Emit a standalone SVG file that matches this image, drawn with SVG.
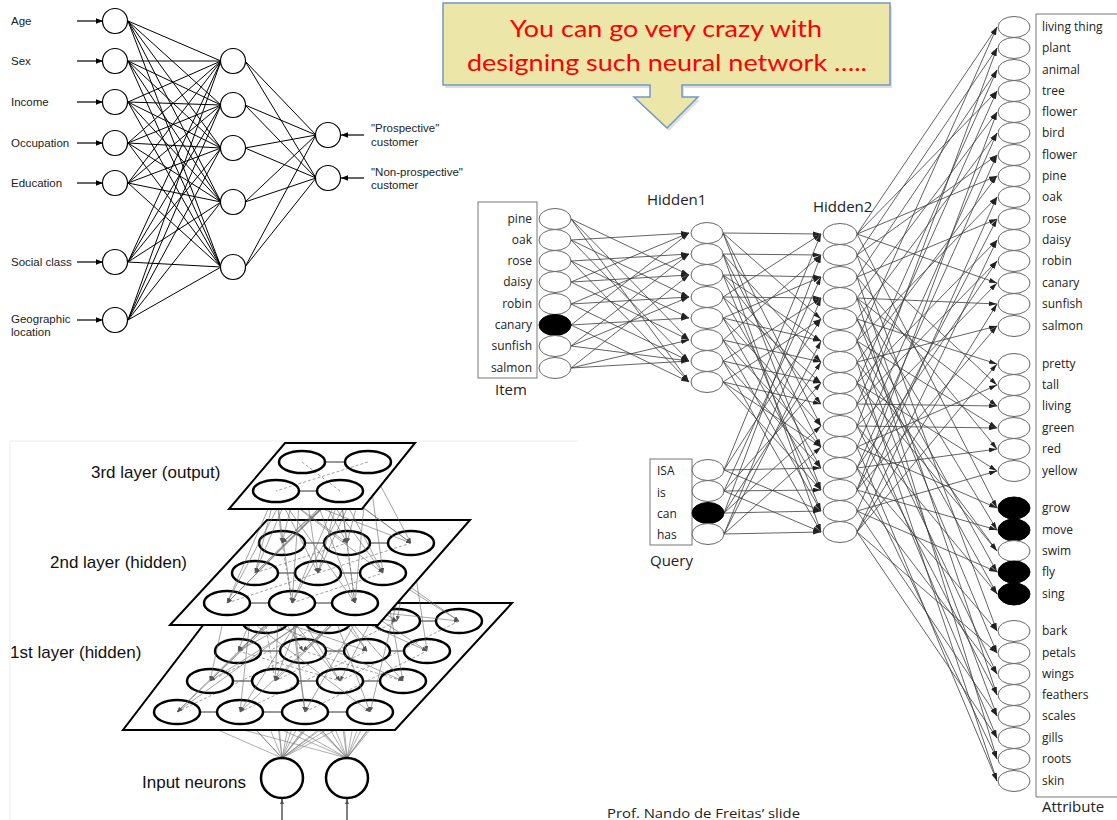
<svg xmlns="http://www.w3.org/2000/svg" width="1117" height="820" viewBox="0 0 1117 820">
  <defs>
    <marker id="arr" viewBox="0 0 10 6" refX="10" refY="3" markerWidth="8" markerHeight="5" markerUnits="userSpaceOnUse" orient="auto">
      <path d="M0,0L10,3L0,6z" fill="#222"/>
    </marker>
    <marker id="arrTL" viewBox="0 0 10 8" refX="10" refY="4" markerWidth="7" markerHeight="6" markerUnits="userSpaceOnUse" orient="auto">
      <path d="M0,0L10,4L0,8z" fill="#000"/>
    </marker>
    <marker id="arrSm" viewBox="0 0 10 8" refX="10" refY="4" markerWidth="5" markerHeight="4" markerUnits="userSpaceOnUse" orient="auto">
      <path d="M0,0L10,4L0,8z" fill="#555"/>
    </marker>
    <style>
      .tl-edge{fill:none;stroke:#000;stroke-width:1}
      .tl-node{fill:#fff;stroke:#000;stroke-width:1.2}
      .tl-arrow{stroke:#000;stroke-width:1.2;marker-end:url(#arrTL)}
      .tl-label{font-family:"Liberation Sans",Arial,sans-serif;font-size:11.5px;fill:#222}
      .rn-edge{stroke:#3a3a3a;stroke-width:0.8;marker-end:url(#arr)}
      .rn-node{fill:#fff;stroke:#666;stroke-width:1}
      .rn-node.on{fill:#000;stroke:#000}
      .rn-label{font-family:"Open Sans","Noto Sans",sans-serif;font-size:12px;fill:#222}
      .rn-title{font-family:"Open Sans","Noto Sans",sans-serif;font-size:15px;fill:#222}
      .rn-box{fill:none;stroke:#777;stroke-width:1}
      .plane{fill:#fff;stroke:#000;stroke-width:2}
      .neuron{fill:none;stroke:#000;stroke-width:2.5}
      .mesh{stroke:#333;stroke-width:1}
      .mesh-d{stroke:#777;stroke-width:0.7;stroke-dasharray:3 2}
      .syn{stroke:#666;stroke-width:0.6;marker-end:url(#arrSm)}
      .syn-in{stroke:#777;stroke-width:0.6}
      .layer-label{font-family:"Liberation Sans",Arial,sans-serif;font-size:17px;fill:#111}
      .callout-text{font-family:Lato,"Open Sans",sans-serif;font-size:24px;fill:#ff0000}
    </style>
  </defs>

  <rect width="1117" height="820" fill="#fff"/>

  <!-- ===== Customer classification network (top left) ===== -->
  <g id="customer-net">
    <g id="customer-edges">
      <path class="tl-edge" d="M128 21L221 61M128 21L221 105M128 21L221 148M128 21L221 202M128 21L221 267
        M128 61L221 61M128 61L221 105M128 61L221 148M128 61L221 202M128 61L221 267
        M128 102L221 61M128 102L221 105M128 102L221 148M128 102L221 202M128 102L221 267
        M128 143L221 61M128 143L221 105M128 143L221 148M128 143L221 202M128 143L221 267
        M128 183L221 61M128 183L221 105M128 183L221 148M128 183L221 202M128 183L221 267
        M128 262L221 61M128 262L221 105M128 262L221 148M128 262L221 202M128 262L221 267
        M128 320L221 61M128 320L221 105M128 320L221 148M128 320L221 202M128 320L221 267
        M245 61L316 135M245 61L316 178M245 105L316 135M245 105L316 178M245 148L316 135M245 148L316 178
        M245 202L316 135M245 202L316 178M245 267L316 135M245 267L316 178"/>
      <line class="tl-arrow" x1="77" y1="21" x2="103" y2="21"/>
      <line class="tl-arrow" x1="77" y1="61" x2="103" y2="61"/>
      <line class="tl-arrow" x1="77" y1="102" x2="103" y2="102"/>
      <line class="tl-arrow" x1="77" y1="143" x2="103" y2="143"/>
      <line class="tl-arrow" x1="77" y1="183" x2="103" y2="183"/>
      <line class="tl-arrow" x1="77" y1="262" x2="103" y2="262"/>
      <line class="tl-arrow" x1="77" y1="320" x2="103" y2="320"/>
      <line class="tl-arrow" x1="364" y1="135" x2="341" y2="135"/>
      <line class="tl-arrow" x1="364" y1="178" x2="341" y2="178"/>
    </g>
    <g id="in-age"><circle class="tl-node" cx="115" cy="21" r="12.5"/><text class="tl-label" x="11" y="25">Age</text></g>
    <g id="in-sex"><circle class="tl-node" cx="115" cy="61" r="12.5"/><text class="tl-label" x="11" y="65">Sex</text></g>
    <g id="in-income"><circle class="tl-node" cx="115" cy="102" r="12.5"/><text class="tl-label" x="11" y="106">Income</text></g>
    <g id="in-occupation"><circle class="tl-node" cx="115" cy="143" r="12.5"/><text class="tl-label" x="11" y="147">Occupation</text></g>
    <g id="in-education"><circle class="tl-node" cx="115" cy="183" r="12.5"/><text class="tl-label" x="11" y="187">Education</text></g>
    <g id="in-social"><circle class="tl-node" cx="115" cy="262" r="12.5"/><text class="tl-label" x="11" y="266">Social class</text></g>
    <g id="in-geo"><circle class="tl-node" cx="115" cy="320" r="12.5"/><text class="tl-label" x="11" y="323">Geographic</text><text class="tl-label" x="11" y="336">location</text></g>
    <g id="hid-1"><circle class="tl-node" cx="233" cy="61" r="12.5"/></g>
    <g id="hid-2"><circle class="tl-node" cx="233" cy="105" r="12.5"/></g>
    <g id="hid-3"><circle class="tl-node" cx="233" cy="148" r="12.5"/></g>
    <g id="hid-4"><circle class="tl-node" cx="233" cy="202" r="12.5"/></g>
    <g id="hid-5"><circle class="tl-node" cx="233" cy="267" r="12.5"/></g>
    <g id="out-prospective"><circle class="tl-node" cx="328" cy="135" r="12.5"/><text class="tl-label" x="371" y="132">"Prospective"</text><text class="tl-label" x="371" y="146">customer</text></g>
    <g id="out-nonprospective"><circle class="tl-node" cx="328" cy="178" r="12.5"/><text class="tl-label" x="371" y="176">"Non-prospective"</text><text class="tl-label" x="371" y="189">customer</text></g>
  </g>

  <!-- ===== Callout ===== -->
  <g id="callout">
    <path d="M443,3H890V85H682V97H698L667,128L634,97H650V85H443Z" fill="#000" opacity="0.12" transform="translate(2,3)"/>
    <path d="M443,3H890V85H682V97H698L667,128L634,97H650V85H443Z" fill="#ece7a9" stroke="#7098c8" stroke-width="1.5"/>
    <text class="callout-text" x="666" y="37" text-anchor="middle" textLength="312" lengthAdjust="spacingAndGlyphs">You can go very crazy with</text>
    <text class="callout-text" x="667" y="71" text-anchor="middle" textLength="400" lengthAdjust="spacingAndGlyphs">designing such neural network …..</text>
  </g>

  <!-- ===== Semantic network (right) ===== -->
  <g id="semantic-net">
    <g id="semantic-edges">
      <!-- Item -> Hidden1 -->
      <line class="rn-edge" x1="571" y1="219" x2="689" y2="275"/>
      <line class="rn-edge" x1="571" y1="219" x2="689" y2="382"/>
      <line class="rn-edge" x1="571" y1="219" x2="689" y2="340"/>
      <line class="rn-edge" x1="571" y1="240" x2="689" y2="233"/>
      <line class="rn-edge" x1="571" y1="240" x2="689" y2="297"/>
      <line class="rn-edge" x1="571" y1="240" x2="689" y2="361"/>
      <line class="rn-edge" x1="571" y1="261" x2="689" y2="254"/>
      <line class="rn-edge" x1="571" y1="261" x2="689" y2="318"/>
      <line class="rn-edge" x1="571" y1="261" x2="689" y2="382"/>
      <line class="rn-edge" x1="571" y1="282" x2="689" y2="233"/>
      <line class="rn-edge" x1="571" y1="282" x2="689" y2="275"/>
      <line class="rn-edge" x1="571" y1="282" x2="689" y2="340"/>
      <line class="rn-edge" x1="571" y1="304" x2="689" y2="297"/>
      <line class="rn-edge" x1="571" y1="304" x2="689" y2="254"/>
      <line class="rn-edge" x1="571" y1="304" x2="689" y2="361"/>
      <line class="rn-edge" x1="571" y1="325" x2="689" y2="318"/>
      <line class="rn-edge" x1="571" y1="325" x2="689" y2="233"/>
      <line class="rn-edge" x1="571" y1="325" x2="689" y2="382"/>
      <line class="rn-edge" x1="571" y1="346" x2="689" y2="254"/>
      <line class="rn-edge" x1="571" y1="346" x2="689" y2="361"/>
      <line class="rn-edge" x1="571" y1="346" x2="689" y2="297"/>
      <line class="rn-edge" x1="571" y1="368" x2="689" y2="275"/>
      <line class="rn-edge" x1="571" y1="368" x2="689" y2="361"/>
      <line class="rn-edge" x1="571" y1="368" x2="689" y2="340"/>
      <!-- Hidden1 -> Hidden2 -->
      <line class="rn-edge" x1="723" y1="233" x2="821" y2="234"/>
      <line class="rn-edge" x1="723" y1="233" x2="821" y2="319"/>
      <line class="rn-edge" x1="723" y1="233" x2="821" y2="426"/>
      <line class="rn-edge" x1="723" y1="233" x2="821" y2="490"/>
      <line class="rn-edge" x1="723" y1="254" x2="821" y2="255"/>
      <line class="rn-edge" x1="723" y1="254" x2="821" y2="362"/>
      <line class="rn-edge" x1="723" y1="254" x2="821" y2="447"/>
      <line class="rn-edge" x1="723" y1="254" x2="821" y2="532"/>
      <line class="rn-edge" x1="723" y1="275" x2="821" y2="277"/>
      <line class="rn-edge" x1="723" y1="275" x2="821" y2="341"/>
      <line class="rn-edge" x1="723" y1="275" x2="821" y2="404"/>
      <line class="rn-edge" x1="723" y1="275" x2="821" y2="511"/>
      <line class="rn-edge" x1="723" y1="297" x2="821" y2="234"/>
      <line class="rn-edge" x1="723" y1="297" x2="821" y2="298"/>
      <line class="rn-edge" x1="723" y1="297" x2="821" y2="383"/>
      <line class="rn-edge" x1="723" y1="297" x2="821" y2="468"/>
      <line class="rn-edge" x1="723" y1="318" x2="821" y2="277"/>
      <line class="rn-edge" x1="723" y1="318" x2="821" y2="426"/>
      <line class="rn-edge" x1="723" y1="318" x2="821" y2="490"/>
      <line class="rn-edge" x1="723" y1="318" x2="821" y2="341"/>
      <line class="rn-edge" x1="723" y1="340" x2="821" y2="255"/>
      <line class="rn-edge" x1="723" y1="340" x2="821" y2="362"/>
      <line class="rn-edge" x1="723" y1="340" x2="821" y2="447"/>
      <line class="rn-edge" x1="723" y1="340" x2="821" y2="511"/>
      <line class="rn-edge" x1="723" y1="361" x2="821" y2="298"/>
      <line class="rn-edge" x1="723" y1="361" x2="821" y2="383"/>
      <line class="rn-edge" x1="723" y1="361" x2="821" y2="468"/>
      <line class="rn-edge" x1="723" y1="361" x2="821" y2="532"/>
      <line class="rn-edge" x1="723" y1="382" x2="821" y2="319"/>
      <line class="rn-edge" x1="723" y1="382" x2="821" y2="404"/>
      <line class="rn-edge" x1="723" y1="382" x2="821" y2="490"/>
      <line class="rn-edge" x1="723" y1="382" x2="821" y2="447"/>
      <!-- Query -> Hidden2 -->
      <line class="rn-edge" x1="724" y1="470" x2="821" y2="234"/>
      <line class="rn-edge" x1="724" y1="470" x2="821" y2="319"/>
      <line class="rn-edge" x1="724" y1="470" x2="821" y2="468"/>
      <line class="rn-edge" x1="724" y1="470" x2="821" y2="511"/>
      <line class="rn-edge" x1="724" y1="491" x2="821" y2="277"/>
      <line class="rn-edge" x1="724" y1="491" x2="821" y2="383"/>
      <line class="rn-edge" x1="724" y1="491" x2="821" y2="490"/>
      <line class="rn-edge" x1="724" y1="491" x2="821" y2="532"/>
      <line class="rn-edge" x1="724" y1="513" x2="821" y2="255"/>
      <line class="rn-edge" x1="724" y1="513" x2="821" y2="362"/>
      <line class="rn-edge" x1="724" y1="513" x2="821" y2="511"/>
      <line class="rn-edge" x1="724" y1="513" x2="821" y2="426"/>
      <line class="rn-edge" x1="724" y1="534" x2="821" y2="298"/>
      <line class="rn-edge" x1="724" y1="534" x2="821" y2="341"/>
      <line class="rn-edge" x1="724" y1="534" x2="821" y2="447"/>
      <line class="rn-edge" x1="724" y1="534" x2="821" y2="532"/>
      <!-- Hidden2 -> Attribute -->
      <line class="rn-edge" x1="857" y1="234" x2="997" y2="27"/>
      <line class="rn-edge" x1="857" y1="234" x2="997" y2="91"/>
      <line class="rn-edge" x1="857" y1="234" x2="997" y2="176"/>
      <line class="rn-edge" x1="857" y1="234" x2="997" y2="283"/>
      <line class="rn-edge" x1="857" y1="234" x2="997" y2="508"/>
      <line class="rn-edge" x1="857" y1="255" x2="997" y2="48"/>
      <line class="rn-edge" x1="857" y1="255" x2="997" y2="155"/>
      <line class="rn-edge" x1="857" y1="255" x2="997" y2="385"/>
      <line class="rn-edge" x1="857" y1="255" x2="997" y2="631"/>
      <line class="rn-edge" x1="857" y1="277" x2="997" y2="70"/>
      <line class="rn-edge" x1="857" y1="277" x2="997" y2="219"/>
      <line class="rn-edge" x1="857" y1="277" x2="997" y2="449"/>
      <line class="rn-edge" x1="857" y1="277" x2="997" y2="695"/>
      <line class="rn-edge" x1="857" y1="298" x2="997" y2="112"/>
      <line class="rn-edge" x1="857" y1="298" x2="997" y2="304"/>
      <line class="rn-edge" x1="857" y1="298" x2="997" y2="406"/>
      <line class="rn-edge" x1="857" y1="298" x2="997" y2="530"/>
      <line class="rn-edge" x1="857" y1="298" x2="997" y2="759"/>
      <line class="rn-edge" x1="857" y1="319" x2="997" y2="133"/>
      <line class="rn-edge" x1="857" y1="319" x2="997" y2="364"/>
      <line class="rn-edge" x1="857" y1="319" x2="997" y2="572"/>
      <line class="rn-edge" x1="857" y1="319" x2="997" y2="653"/>
      <line class="rn-edge" x1="857" y1="341" x2="997" y2="27"/>
      <line class="rn-edge" x1="857" y1="341" x2="997" y2="197"/>
      <line class="rn-edge" x1="857" y1="341" x2="997" y2="428"/>
      <line class="rn-edge" x1="857" y1="341" x2="997" y2="594"/>
      <line class="rn-edge" x1="857" y1="341" x2="997" y2="716"/>
      <line class="rn-edge" x1="857" y1="362" x2="997" y2="176"/>
      <line class="rn-edge" x1="857" y1="362" x2="997" y2="326"/>
      <line class="rn-edge" x1="857" y1="362" x2="997" y2="551"/>
      <line class="rn-edge" x1="857" y1="362" x2="997" y2="781"/>
      <line class="rn-edge" x1="857" y1="383" x2="997" y2="70"/>
      <line class="rn-edge" x1="857" y1="383" x2="997" y2="240"/>
      <line class="rn-edge" x1="857" y1="383" x2="997" y2="471"/>
      <line class="rn-edge" x1="857" y1="383" x2="997" y2="551"/>
      <line class="rn-edge" x1="857" y1="383" x2="997" y2="674"/>
      <line class="rn-edge" x1="857" y1="404" x2="997" y2="91"/>
      <line class="rn-edge" x1="857" y1="404" x2="997" y2="261"/>
      <line class="rn-edge" x1="857" y1="404" x2="997" y2="406"/>
      <line class="rn-edge" x1="857" y1="404" x2="997" y2="738"/>
      <line class="rn-edge" x1="857" y1="426" x2="997" y2="48"/>
      <line class="rn-edge" x1="857" y1="426" x2="997" y2="283"/>
      <line class="rn-edge" x1="857" y1="426" x2="997" y2="428"/>
      <line class="rn-edge" x1="857" y1="426" x2="997" y2="594"/>
      <line class="rn-edge" x1="857" y1="426" x2="997" y2="695"/>
      <line class="rn-edge" x1="857" y1="447" x2="997" y2="133"/>
      <line class="rn-edge" x1="857" y1="447" x2="997" y2="385"/>
      <line class="rn-edge" x1="857" y1="447" x2="997" y2="508"/>
      <line class="rn-edge" x1="857" y1="447" x2="997" y2="781"/>
      <line class="rn-edge" x1="857" y1="468" x2="997" y2="155"/>
      <line class="rn-edge" x1="857" y1="468" x2="997" y2="261"/>
      <line class="rn-edge" x1="857" y1="468" x2="997" y2="449"/>
      <line class="rn-edge" x1="857" y1="468" x2="997" y2="631"/>
      <line class="rn-edge" x1="857" y1="468" x2="997" y2="759"/>
      <line class="rn-edge" x1="857" y1="490" x2="997" y2="112"/>
      <line class="rn-edge" x1="857" y1="490" x2="997" y2="219"/>
      <line class="rn-edge" x1="857" y1="490" x2="997" y2="326"/>
      <line class="rn-edge" x1="857" y1="490" x2="997" y2="530"/>
      <line class="rn-edge" x1="857" y1="490" x2="997" y2="674"/>
      <line class="rn-edge" x1="857" y1="511" x2="997" y2="197"/>
      <line class="rn-edge" x1="857" y1="511" x2="997" y2="471"/>
      <line class="rn-edge" x1="857" y1="511" x2="997" y2="572"/>
      <line class="rn-edge" x1="857" y1="511" x2="997" y2="716"/>
      <line class="rn-edge" x1="857" y1="532" x2="997" y2="240"/>
      <line class="rn-edge" x1="857" y1="532" x2="997" y2="304"/>
      <line class="rn-edge" x1="857" y1="532" x2="997" y2="364"/>
      <line class="rn-edge" x1="857" y1="532" x2="997" y2="653"/>
      <line class="rn-edge" x1="857" y1="532" x2="997" y2="738"/>
    </g>

    <!-- Item layer -->
    <g id="item-layer">
      <rect class="rn-box" x="478" y="202" width="59" height="176"/>
      <text class="rn-title" x="495" y="395" font-size="16">Item</text>
      <g id="item-pine"><ellipse class="rn-node" cx="555" cy="219" rx="16" ry="10.5"/><text class="rn-label" x="532" y="223" text-anchor="end">pine</text></g>
      <g id="item-oak"><ellipse class="rn-node" cx="555" cy="240" rx="16" ry="10.5"/><text class="rn-label" x="532" y="244" text-anchor="end">oak</text></g>
      <g id="item-rose"><ellipse class="rn-node" cx="555" cy="261" rx="16" ry="10.5"/><text class="rn-label" x="532" y="265" text-anchor="end">rose</text></g>
      <g id="item-daisy"><ellipse class="rn-node" cx="555" cy="282" rx="16" ry="10.5"/><text class="rn-label" x="532" y="286" text-anchor="end">daisy</text></g>
      <g id="item-robin"><ellipse class="rn-node" cx="555" cy="304" rx="16" ry="10.5"/><text class="rn-label" x="532" y="308" text-anchor="end">robin</text></g>
      <g id="item-canary"><ellipse class="rn-node on" cx="555" cy="325" rx="16" ry="10.5"/><text class="rn-label" x="532" y="329" text-anchor="end">canary</text></g>
      <g id="item-sunfish"><ellipse class="rn-node" cx="555" cy="346" rx="16" ry="10.5"/><text class="rn-label" x="532" y="350" text-anchor="end">sunfish</text></g>
      <g id="item-salmon"><ellipse class="rn-node" cx="555" cy="368" rx="16" ry="10.5"/><text class="rn-label" x="532" y="372" text-anchor="end">salmon</text></g>
    </g>

    <!-- Hidden1 layer -->
    <g id="hidden1-layer">
      <text class="rn-title" x="647" y="205">Hidden1</text>
      <g id="h1-1"><ellipse class="rn-node" cx="707" cy="233" rx="16" ry="10.5"/></g>
      <g id="h1-2"><ellipse class="rn-node" cx="707" cy="254" rx="16" ry="10.5"/></g>
      <g id="h1-3"><ellipse class="rn-node" cx="707" cy="275" rx="16" ry="10.5"/></g>
      <g id="h1-4"><ellipse class="rn-node" cx="707" cy="297" rx="16" ry="10.5"/></g>
      <g id="h1-5"><ellipse class="rn-node" cx="707" cy="318" rx="16" ry="10.5"/></g>
      <g id="h1-6"><ellipse class="rn-node" cx="707" cy="340" rx="16" ry="10.5"/></g>
      <g id="h1-7"><ellipse class="rn-node" cx="707" cy="361" rx="16" ry="10.5"/></g>
      <g id="h1-8"><ellipse class="rn-node" cx="707" cy="382" rx="16" ry="10.5"/></g>
    </g>

    <!-- Query layer -->
    <g id="query-layer">
      <rect class="rn-box" x="650" y="459" width="42" height="86"/>
      <text class="rn-title" x="650" y="566" font-size="16">Query</text>
      <g id="q-isa"><ellipse class="rn-node" cx="708" cy="470" rx="16" ry="10.5"/><text class="rn-label" x="657" y="475">ISA</text></g>
      <g id="q-is"><ellipse class="rn-node" cx="708" cy="491" rx="16" ry="10.5"/><text class="rn-label" x="657" y="497">is</text></g>
      <g id="q-can"><ellipse class="rn-node on" cx="708" cy="513" rx="16" ry="10.5"/><text class="rn-label" x="657" y="518">can</text></g>
      <g id="q-has"><ellipse class="rn-node" cx="708" cy="534" rx="16" ry="10.5"/><text class="rn-label" x="657" y="539">has</text></g>
    </g>

    <!-- Hidden2 layer -->
    <g id="hidden2-layer">
      <text class="rn-title" x="813" y="212">Hidden2</text>
      <g id="h2-1"><ellipse class="rn-node" cx="840" cy="234" rx="17" ry="10.5"/></g>
      <g id="h2-2"><ellipse class="rn-node" cx="840" cy="255" rx="17" ry="10.5"/></g>
      <g id="h2-3"><ellipse class="rn-node" cx="840" cy="277" rx="17" ry="10.5"/></g>
      <g id="h2-4"><ellipse class="rn-node" cx="840" cy="298" rx="17" ry="10.5"/></g>
      <g id="h2-5"><ellipse class="rn-node" cx="840" cy="319" rx="17" ry="10.5"/></g>
      <g id="h2-6"><ellipse class="rn-node" cx="840" cy="341" rx="17" ry="10.5"/></g>
      <g id="h2-7"><ellipse class="rn-node" cx="840" cy="362" rx="17" ry="10.5"/></g>
      <g id="h2-8"><ellipse class="rn-node" cx="840" cy="383" rx="17" ry="10.5"/></g>
      <g id="h2-9"><ellipse class="rn-node" cx="840" cy="404" rx="17" ry="10.5"/></g>
      <g id="h2-10"><ellipse class="rn-node" cx="840" cy="426" rx="17" ry="10.5"/></g>
      <g id="h2-11"><ellipse class="rn-node" cx="840" cy="447" rx="17" ry="10.5"/></g>
      <g id="h2-12"><ellipse class="rn-node" cx="840" cy="468" rx="17" ry="10.5"/></g>
      <g id="h2-13"><ellipse class="rn-node" cx="840" cy="490" rx="17" ry="10.5"/></g>
      <g id="h2-14"><ellipse class="rn-node" cx="840" cy="511" rx="17" ry="10.5"/></g>
      <g id="h2-15"><ellipse class="rn-node" cx="840" cy="532" rx="17" ry="10.5"/></g>
    </g>

    <!-- Attribute layer -->
    <g id="attribute-layer">
      <path class="rn-box" d="M1117,14H1036V797H1117"/>
      <text class="rn-title" x="1042" y="812" font-size="16">Attribute</text>
      <g id="a-living-thing"><ellipse class="rn-node" cx="1014" cy="27" rx="16" ry="10.5"/><text class="rn-label" x="1042" y="31">living thing</text></g>
      <g id="a-plant"><ellipse class="rn-node" cx="1014" cy="48" rx="16" ry="10.5"/><text class="rn-label" x="1042" y="52">plant</text></g>
      <g id="a-animal"><ellipse class="rn-node" cx="1014" cy="70" rx="16" ry="10.5"/><text class="rn-label" x="1042" y="74">animal</text></g>
      <g id="a-tree"><ellipse class="rn-node" cx="1014" cy="91" rx="16" ry="10.5"/><text class="rn-label" x="1042" y="95">tree</text></g>
      <g id="a-flower"><ellipse class="rn-node" cx="1014" cy="112" rx="16" ry="10.5"/><text class="rn-label" x="1042" y="116">flower</text></g>
      <g id="a-bird"><ellipse class="rn-node" cx="1014" cy="133" rx="16" ry="10.5"/><text class="rn-label" x="1042" y="137">bird</text></g>
      <g id="a-flower2"><ellipse class="rn-node" cx="1014" cy="155" rx="16" ry="10.5"/><text class="rn-label" x="1042" y="159">flower</text></g>
      <g id="a-pine"><ellipse class="rn-node" cx="1014" cy="176" rx="16" ry="10.5"/><text class="rn-label" x="1042" y="180">pine</text></g>
      <g id="a-oak"><ellipse class="rn-node" cx="1014" cy="197" rx="16" ry="10.5"/><text class="rn-label" x="1042" y="201">oak</text></g>
      <g id="a-rose"><ellipse class="rn-node" cx="1014" cy="219" rx="16" ry="10.5"/><text class="rn-label" x="1042" y="223">rose</text></g>
      <g id="a-daisy"><ellipse class="rn-node" cx="1014" cy="240" rx="16" ry="10.5"/><text class="rn-label" x="1042" y="244">daisy</text></g>
      <g id="a-robin"><ellipse class="rn-node" cx="1014" cy="261" rx="16" ry="10.5"/><text class="rn-label" x="1042" y="265">robin</text></g>
      <g id="a-canary"><ellipse class="rn-node" cx="1014" cy="283" rx="16" ry="10.5"/><text class="rn-label" x="1042" y="287">canary</text></g>
      <g id="a-sunfish"><ellipse class="rn-node" cx="1014" cy="304" rx="16" ry="10.5"/><text class="rn-label" x="1042" y="308">sunfish</text></g>
      <g id="a-salmon"><ellipse class="rn-node" cx="1014" cy="326" rx="16" ry="10.5"/><text class="rn-label" x="1042" y="330">salmon</text></g>
      <g id="a-pretty"><ellipse class="rn-node" cx="1014" cy="364" rx="16" ry="10.5"/><text class="rn-label" x="1042" y="368">pretty</text></g>
      <g id="a-tall"><ellipse class="rn-node" cx="1014" cy="385" rx="16" ry="10.5"/><text class="rn-label" x="1042" y="389">tall</text></g>
      <g id="a-living"><ellipse class="rn-node" cx="1014" cy="406" rx="16" ry="10.5"/><text class="rn-label" x="1042" y="410">living</text></g>
      <g id="a-green"><ellipse class="rn-node" cx="1014" cy="428" rx="16" ry="10.5"/><text class="rn-label" x="1042" y="432">green</text></g>
      <g id="a-red"><ellipse class="rn-node" cx="1014" cy="449" rx="16" ry="10.5"/><text class="rn-label" x="1042" y="453">red</text></g>
      <g id="a-yellow"><ellipse class="rn-node" cx="1014" cy="471" rx="16" ry="10.5"/><text class="rn-label" x="1042" y="475">yellow</text></g>
      <g id="a-grow"><ellipse class="rn-node on" cx="1014" cy="508" rx="16" ry="11"/><text class="rn-label" x="1042" y="512">grow</text></g>
      <g id="a-move"><ellipse class="rn-node on" cx="1014" cy="530" rx="16" ry="11"/><text class="rn-label" x="1042" y="534">move</text></g>
      <g id="a-swim"><ellipse class="rn-node" cx="1014" cy="551" rx="16" ry="10.5"/><text class="rn-label" x="1042" y="555">swim</text></g>
      <g id="a-fly"><ellipse class="rn-node on" cx="1014" cy="572" rx="16" ry="11"/><text class="rn-label" x="1042" y="576">fly</text></g>
      <g id="a-sing"><ellipse class="rn-node on" cx="1014" cy="594" rx="16" ry="11"/><text class="rn-label" x="1042" y="598">sing</text></g>
      <g id="a-bark"><ellipse class="rn-node" cx="1014" cy="631" rx="16" ry="10.5"/><text class="rn-label" x="1042" y="635">bark</text></g>
      <g id="a-petals"><ellipse class="rn-node" cx="1014" cy="653" rx="16" ry="10.5"/><text class="rn-label" x="1042" y="657">petals</text></g>
      <g id="a-wings"><ellipse class="rn-node" cx="1014" cy="674" rx="16" ry="10.5"/><text class="rn-label" x="1042" y="678">wings</text></g>
      <g id="a-feathers"><ellipse class="rn-node" cx="1014" cy="695" rx="16" ry="10.5"/><text class="rn-label" x="1042" y="699">feathers</text></g>
      <g id="a-scales"><ellipse class="rn-node" cx="1014" cy="716" rx="16" ry="10.5"/><text class="rn-label" x="1042" y="720">scales</text></g>
      <g id="a-gills"><ellipse class="rn-node" cx="1014" cy="738" rx="16" ry="10.5"/><text class="rn-label" x="1042" y="742">gills</text></g>
      <g id="a-roots"><ellipse class="rn-node" cx="1014" cy="759" rx="16" ry="10.5"/><text class="rn-label" x="1042" y="763">roots</text></g>
      <g id="a-skin"><ellipse class="rn-node" cx="1014" cy="781" rx="16" ry="10.5"/><text class="rn-label" x="1042" y="785">skin</text></g>
    </g>
  </g>

  <!-- ===== Stacked layers drawing (bottom left) ===== -->
  <g id="stacked-net">
    <path d="M10,820V441H578" fill="none" stroke="#ececec" stroke-width="1"/>

    <!-- input neurons feeding the first layer -->
    <g id="input-synapses">
      <line class="syn-in" x1="282" y1="758" x2="265" y2="621"/><line class="syn-in" x1="282" y1="758" x2="328" y2="621"/>
      <line class="syn-in" x1="282" y1="758" x2="397" y2="621"/><line class="syn-in" x1="282" y1="758" x2="459" y2="621"/>
      <line class="syn-in" x1="282" y1="758" x2="238" y2="651"/><line class="syn-in" x1="282" y1="758" x2="303" y2="651"/>
      <line class="syn-in" x1="282" y1="758" x2="367" y2="651"/><line class="syn-in" x1="282" y1="758" x2="427" y2="651"/>
      <line class="syn-in" x1="282" y1="758" x2="210" y2="681"/><line class="syn-in" x1="282" y1="758" x2="275" y2="681"/>
      <line class="syn-in" x1="282" y1="758" x2="340" y2="681"/><line class="syn-in" x1="282" y1="758" x2="403" y2="681"/>
      <line class="syn-in" x1="282" y1="758" x2="177" y2="712"/><line class="syn-in" x1="282" y1="758" x2="240" y2="712"/>
      <line class="syn-in" x1="282" y1="758" x2="305" y2="712"/><line class="syn-in" x1="282" y1="758" x2="370" y2="712"/>
      <line class="syn-in" x1="347" y1="758" x2="265" y2="621"/><line class="syn-in" x1="347" y1="758" x2="328" y2="621"/>
      <line class="syn-in" x1="347" y1="758" x2="397" y2="621"/><line class="syn-in" x1="347" y1="758" x2="459" y2="621"/>
      <line class="syn-in" x1="347" y1="758" x2="238" y2="651"/><line class="syn-in" x1="347" y1="758" x2="303" y2="651"/>
      <line class="syn-in" x1="347" y1="758" x2="367" y2="651"/><line class="syn-in" x1="347" y1="758" x2="427" y2="651"/>
      <line class="syn-in" x1="347" y1="758" x2="210" y2="681"/><line class="syn-in" x1="347" y1="758" x2="275" y2="681"/>
      <line class="syn-in" x1="347" y1="758" x2="340" y2="681"/><line class="syn-in" x1="347" y1="758" x2="403" y2="681"/>
      <line class="syn-in" x1="347" y1="758" x2="177" y2="712"/><line class="syn-in" x1="347" y1="758" x2="240" y2="712"/>
      <line class="syn-in" x1="347" y1="758" x2="305" y2="712"/><line class="syn-in" x1="347" y1="758" x2="370" y2="712"/>
    </g>

    <!-- 1st layer -->
    <g id="layer1">
      <polygon class="plane" points="220,603 512,603 395,730 123,730"/>
      <path class="mesh" d="M288 621H305M351 621H374M420 621H436M261 651H280M326 651H344M390 651H404M233 681H252M298 681H317M363 681H380M200 712H217M263 712H282M328 712H347"/>
      <path class="mesh-d" d="M177 712L303 651M240 712L367 651M305 712L427 651M210 681L328 621M275 681L397 621M340 681L459 621M238 651L340 681M303 651L403 681M265 621L275 681"/>
      <ellipse class="neuron" cx="265" cy="621" rx="23" ry="12"/><ellipse class="neuron" cx="328" cy="621" rx="23" ry="12"/>
      <ellipse class="neuron" cx="397" cy="621" rx="23" ry="12"/><ellipse class="neuron" cx="459" cy="621" rx="23" ry="12"/>
      <ellipse class="neuron" cx="238" cy="651" rx="23" ry="12"/><ellipse class="neuron" cx="303" cy="651" rx="23" ry="12"/>
      <ellipse class="neuron" cx="367" cy="651" rx="23" ry="12"/><ellipse class="neuron" cx="427" cy="651" rx="23" ry="12"/>
      <ellipse class="neuron" cx="210" cy="681" rx="23" ry="12"/><ellipse class="neuron" cx="275" cy="681" rx="23" ry="12"/>
      <ellipse class="neuron" cx="340" cy="681" rx="23" ry="12"/><ellipse class="neuron" cx="403" cy="681" rx="23" ry="12"/>
      <ellipse class="neuron" cx="177" cy="712" rx="23" ry="12"/><ellipse class="neuron" cx="240" cy="712" rx="23" ry="12"/>
      <ellipse class="neuron" cx="305" cy="712" rx="23" ry="12"/><ellipse class="neuron" cx="370" cy="712" rx="23" ry="12"/>
    </g>

    <!-- 2nd layer to 1st layer synapses -->
    <g id="synapses-2-1">
      <line class="syn" x1="282" y1="543" x2="265" y2="621"/><line class="syn" x1="318" y1="573" x2="265" y2="621"/><line class="syn" x1="355" y1="603" x2="265" y2="621"/>
      <line class="syn" x1="347" y1="543" x2="328" y2="621"/><line class="syn" x1="255" y1="573" x2="328" y2="621"/><line class="syn" x1="292" y1="603" x2="328" y2="621"/>
      <line class="syn" x1="411" y1="543" x2="397" y2="621"/><line class="syn" x1="318" y1="573" x2="397" y2="621"/><line class="syn" x1="227" y1="603" x2="397" y2="621"/>
      <line class="syn" x1="347" y1="543" x2="459" y2="621"/><line class="syn" x1="383" y1="573" x2="459" y2="621"/><line class="syn" x1="292" y1="603" x2="459" y2="621"/>
      <line class="syn" x1="282" y1="543" x2="238" y2="651"/><line class="syn" x1="383" y1="573" x2="238" y2="651"/><line class="syn" x1="292" y1="603" x2="238" y2="651"/>
      <line class="syn" x1="411" y1="543" x2="303" y2="651"/><line class="syn" x1="255" y1="573" x2="303" y2="651"/><line class="syn" x1="355" y1="603" x2="303" y2="651"/>
      <line class="syn" x1="282" y1="543" x2="367" y2="651"/><line class="syn" x1="318" y1="573" x2="367" y2="651"/><line class="syn" x1="227" y1="603" x2="367" y2="651"/>
      <line class="syn" x1="411" y1="543" x2="427" y2="651"/><line class="syn" x1="255" y1="573" x2="427" y2="651"/><line class="syn" x1="355" y1="603" x2="427" y2="651"/>
      <line class="syn" x1="347" y1="543" x2="210" y2="681"/><line class="syn" x1="383" y1="573" x2="210" y2="681"/><line class="syn" x1="227" y1="603" x2="210" y2="681"/>
      <line class="syn" x1="282" y1="543" x2="275" y2="681"/><line class="syn" x1="318" y1="573" x2="275" y2="681"/><line class="syn" x1="355" y1="603" x2="275" y2="681"/>
      <line class="syn" x1="411" y1="543" x2="340" y2="681"/><line class="syn" x1="255" y1="573" x2="340" y2="681"/><line class="syn" x1="292" y1="603" x2="340" y2="681"/>
      <line class="syn" x1="282" y1="543" x2="403" y2="681"/><line class="syn" x1="383" y1="573" x2="403" y2="681"/><line class="syn" x1="227" y1="603" x2="403" y2="681"/>
      <line class="syn" x1="411" y1="543" x2="177" y2="712"/><line class="syn" x1="318" y1="573" x2="177" y2="712"/><line class="syn" x1="292" y1="603" x2="177" y2="712"/>
      <line class="syn" x1="347" y1="543" x2="240" y2="712"/><line class="syn" x1="255" y1="573" x2="240" y2="712"/><line class="syn" x1="355" y1="603" x2="240" y2="712"/>
      <line class="syn" x1="282" y1="543" x2="305" y2="712"/><line class="syn" x1="383" y1="573" x2="305" y2="712"/><line class="syn" x1="292" y1="603" x2="305" y2="712"/>
      <line class="syn" x1="411" y1="543" x2="370" y2="712"/><line class="syn" x1="318" y1="573" x2="370" y2="712"/><line class="syn" x1="227" y1="603" x2="370" y2="712"/>
    </g>

    <!-- 2nd layer -->
    <g id="layer2">
      <polygon class="plane" points="267,520 470,520 378,625 170,625"/>
      <path class="mesh" d="M305 543H324M370 543H388M278 573H295M341 573H360M250 603H269M315 603H332"/>
      <path class="mesh-d" d="M227 603L318 573M292 603L383 573M255 573L347 543M318 573L411 543M282 543L292 603M347 543L355 603"/>
      <ellipse class="neuron" cx="282" cy="543" rx="23" ry="12"/><ellipse class="neuron" cx="347" cy="543" rx="23" ry="12"/><ellipse class="neuron" cx="411" cy="543" rx="23" ry="12"/>
      <ellipse class="neuron" cx="255" cy="573" rx="23" ry="12"/><ellipse class="neuron" cx="318" cy="573" rx="23" ry="12"/><ellipse class="neuron" cx="383" cy="573" rx="23" ry="12"/>
      <ellipse class="neuron" cx="227" cy="603" rx="23" ry="12"/><ellipse class="neuron" cx="292" cy="603" rx="23" ry="12"/><ellipse class="neuron" cx="355" cy="603" rx="23" ry="12"/>
    </g>

    <!-- 3rd layer to 2nd layer synapses -->
    <g id="synapses-3-2">
      <line class="syn" x1="302" y1="462" x2="282" y2="543"/><line class="syn" x1="302" y1="462" x2="347" y2="543"/><line class="syn" x1="302" y1="462" x2="411" y2="543"/>
      <line class="syn" x1="302" y1="462" x2="255" y2="573"/><line class="syn" x1="302" y1="462" x2="318" y2="573"/><line class="syn" x1="302" y1="462" x2="383" y2="573"/>
      <line class="syn" x1="302" y1="462" x2="227" y2="603"/><line class="syn" x1="302" y1="462" x2="292" y2="603"/><line class="syn" x1="302" y1="462" x2="355" y2="603"/>
      <line class="syn" x1="368" y1="462" x2="282" y2="543"/><line class="syn" x1="368" y1="462" x2="347" y2="543"/><line class="syn" x1="368" y1="462" x2="411" y2="543"/>
      <line class="syn" x1="368" y1="462" x2="255" y2="573"/><line class="syn" x1="368" y1="462" x2="318" y2="573"/><line class="syn" x1="368" y1="462" x2="383" y2="573"/>
      <line class="syn" x1="368" y1="462" x2="227" y2="603"/><line class="syn" x1="368" y1="462" x2="292" y2="603"/><line class="syn" x1="368" y1="462" x2="355" y2="603"/>
      <line class="syn" x1="276" y1="491" x2="282" y2="543"/><line class="syn" x1="276" y1="491" x2="347" y2="543"/><line class="syn" x1="276" y1="491" x2="411" y2="543"/>
      <line class="syn" x1="276" y1="491" x2="255" y2="573"/><line class="syn" x1="276" y1="491" x2="318" y2="573"/><line class="syn" x1="276" y1="491" x2="383" y2="573"/>
      <line class="syn" x1="276" y1="491" x2="227" y2="603"/><line class="syn" x1="276" y1="491" x2="292" y2="603"/><line class="syn" x1="276" y1="491" x2="355" y2="603"/>
      <line class="syn" x1="340" y1="491" x2="282" y2="543"/><line class="syn" x1="340" y1="491" x2="347" y2="543"/><line class="syn" x1="340" y1="491" x2="411" y2="543"/>
      <line class="syn" x1="340" y1="491" x2="255" y2="573"/><line class="syn" x1="340" y1="491" x2="318" y2="573"/><line class="syn" x1="340" y1="491" x2="383" y2="573"/>
      <line class="syn" x1="340" y1="491" x2="227" y2="603"/><line class="syn" x1="340" y1="491" x2="292" y2="603"/><line class="syn" x1="340" y1="491" x2="355" y2="603"/>
    </g>

    <!-- 3rd layer -->
    <g id="layer3">
      <polygon class="plane" points="285,443 415,443 362,509 229,509"/>
      <path class="mesh" d="M325 462H345M299 491H317"/>
      <path class="mesh-d" d="M302 462L340 491M368 462L276 491"/>
      <ellipse class="neuron" cx="302" cy="462" rx="23" ry="11"/><ellipse class="neuron" cx="368" cy="462" rx="23" ry="11"/>
      <ellipse class="neuron" cx="276" cy="491" rx="23" ry="11"/><ellipse class="neuron" cx="340" cy="491" rx="23" ry="11"/>
    </g>

    <!-- input neurons -->
    <g id="input-neurons">
      <line x1="282" y1="820" x2="282" y2="799" stroke="#000" stroke-width="1" marker-end="url(#arrSm)"/>
      <line x1="347" y1="820" x2="347" y2="799" stroke="#000" stroke-width="1" marker-end="url(#arrSm)"/>
      <ellipse class="neuron" cx="282" cy="778" rx="21" ry="20"/>
      <ellipse class="neuron" cx="347" cy="778" rx="21" ry="20"/>
    </g>

    <text class="layer-label" x="91" y="478">3rd layer (output)</text>
    <text class="layer-label" x="50" y="568">2nd layer (hidden)</text>
    <text class="layer-label" x="10" y="658">1st layer (hidden)</text>
    <text class="layer-label" x="142" y="788">Input neurons</text>
  </g>

  <text x="607" y="818" font-family="'Open Sans','Noto Sans',sans-serif" font-size="13" fill="#222" textLength="193" lengthAdjust="spacingAndGlyphs">Prof. Nando de Freitas’ slide</text>
</svg>
